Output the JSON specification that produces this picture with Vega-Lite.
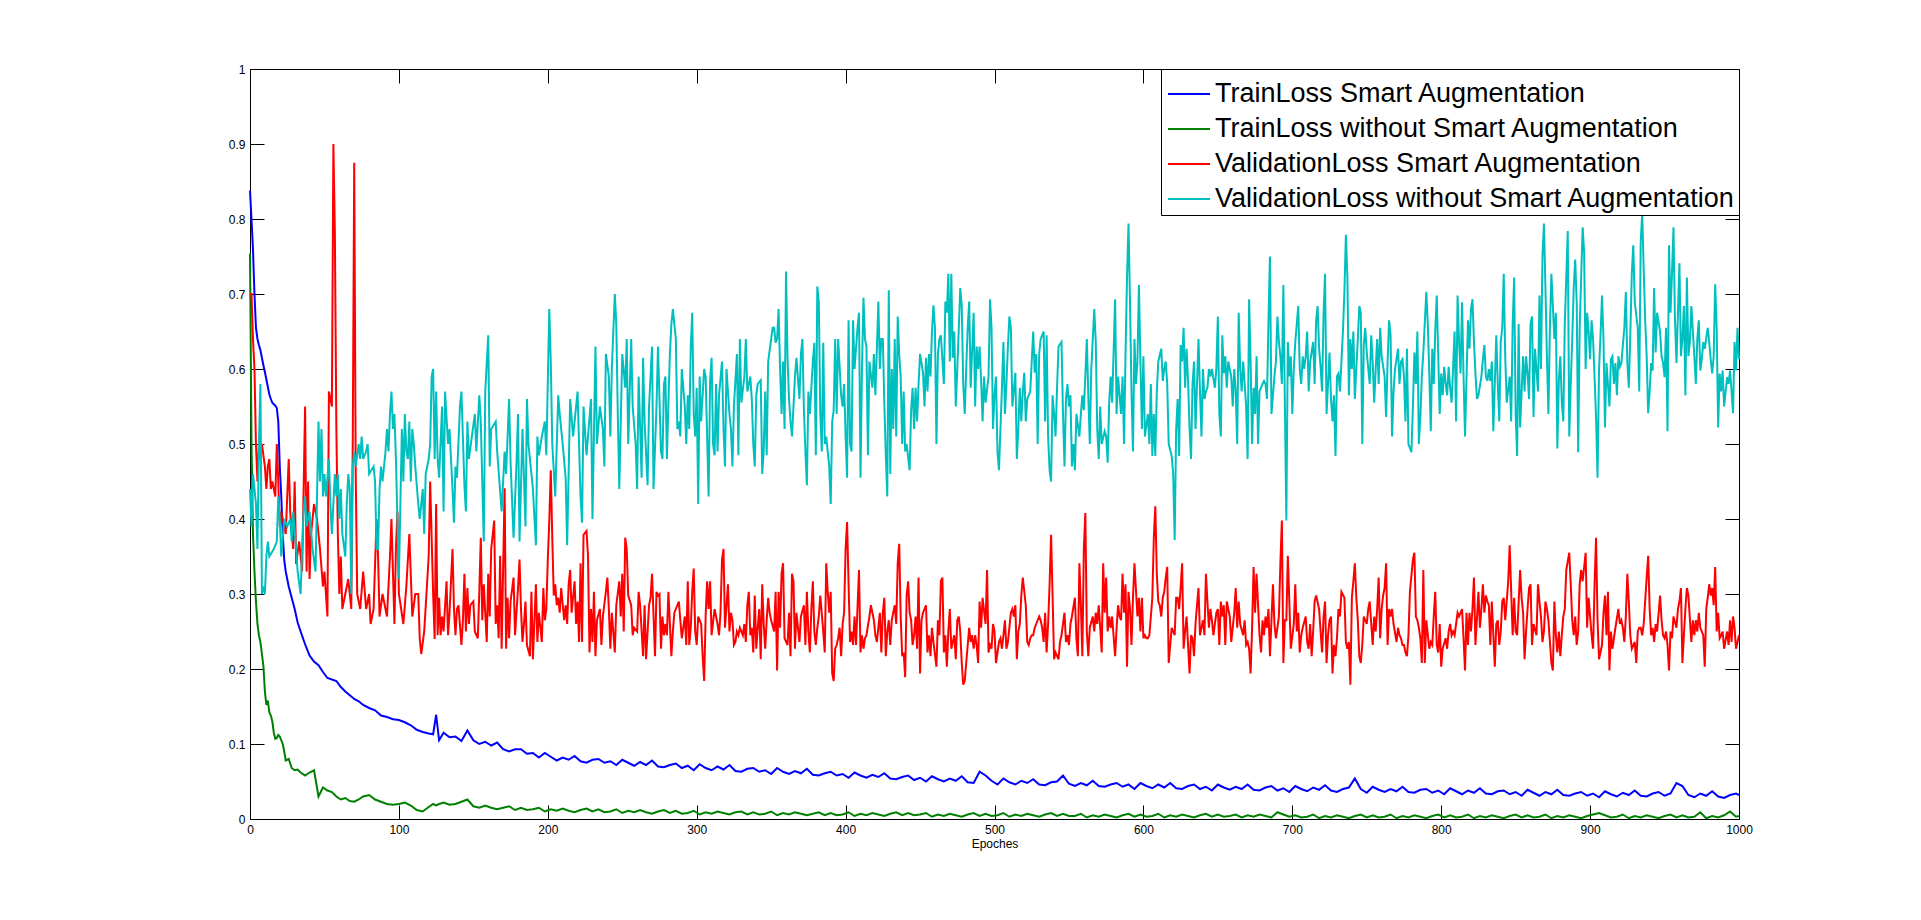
{
"$schema":"https://vega.github.io/schema/vega-lite/v6.json",
"width":1489,"height":750,
"autosize":{"type":"none"},
"padding":{"left":250,"top":69,"right":182,"bottom":101},
"background":"white",
"config":{
"view":{"stroke":"black","strokeWidth":1},
"axis":{"domain":false,"grid":false,"ticks":true,"tickColor":"black","tickSize":-14,"tickWidth":1,"labelFont":"Liberation Sans","labelFontSize":12,"labelColor":"black","titleFont":"Liberation Sans","titleFontSize":12,"titleFontWeight":"normal","titleColor":"black","labelFlush":false,"labelOverlap":false}
},
"datasets":{
"tr":[{"x":0,"a":0.838,"b":0.754},{"x":1,"a":0.8,"b":0.5},{"x":2,"a":0.76,"b":0.38},{"x":3,"a":0.7,"b":0.33},{"x":4,"a":0.655,"b":0.29},{"x":5,"a":0.64,"b":0.26},{"x":6,"a":0.632,"b":0.245},{"x":7,"a":0.625,"b":0.236},{"x":8,"a":0.615,"b":0.22},{"x":9,"a":0.605,"b":0.204},{"x":10,"a":0.596,"b":0.17},{"x":11,"a":0.586,"b":0.152},{"x":12,"a":0.576,"b":0.158},{"x":13,"a":0.566,"b":0.142},{"x":14,"a":0.56,"b":0.138},{"x":15,"a":0.555,"b":0.13},{"x":16,"a":0.553,"b":0.115},{"x":17,"a":0.551,"b":0.107},{"x":18,"a":0.548,"b":0.108},{"x":19,"a":0.53,"b":0.112},{"x":20,"a":0.47,"b":0.11},{"x":21,"a":0.43,"b":0.105},{"x":22,"a":0.38,"b":0.1},{"x":23,"a":0.345,"b":0.09},{"x":24,"a":0.33,"b":0.078},{"x":26,"a":0.31,"b":0.08},{"x":28,"a":0.295,"b":0.068},{"x":30,"a":0.28,"b":0.065},{"x":32,"a":0.262,"b":0.066},{"x":34,"a":0.25,"b":0.062},{"x":37,"a":0.233,"b":0.058},{"x":40,"a":0.218,"b":0.062},{"x":43,"a":0.21,"b":0.065},{"x":46,"a":0.205,"b":0.03},{"x":49,"a":0.196,"b":0.042},{"x":52,"a":0.188,"b":0.038},{"x":55,"a":0.186,"b":0.036},{"x":58,"a":0.184,"b":0.03},{"x":61,"a":0.176,"b":0.026},{"x":64,"a":0.17,"b":0.028},{"x":67,"a":0.165,"b":0.024},{"x":70,"a":0.16,"b":0.023},{"x":73,"a":0.157,"b":0.026},{"x":76,"a":0.152,"b":0.03},{"x":80,"a":0.148,"b":0.032},{"x":84,"a":0.145,"b":0.026},{"x":88,"a":0.138,"b":0.023},{"x":92,"a":0.136,"b":0.02},{"x":96,"a":0.133,"b":0.019},{"x":100,"a":0.132,"b":0.02},{"x":104,"a":0.129,"b":0.022},{"x":108,"a":0.125,"b":0.018},{"x":112,"a":0.119,"b":0.012},{"x":116,"a":0.116,"b":0.01},{"x":120,"a":0.114,"b":0.016},{"x":123,"a":0.113,"b":0.02},{"x":125,"a":0.139,"b":0.018},{"x":127,"a":0.105,"b":0.02},
{"x":130,"a":0.115,"b":0.022},{"x":134,"a":0.109,"b":0.019},{"x":138,"a":0.11,"b":0.02},{"x":142,"a":0.104,"b":0.023},{"x":146,"a":0.118,"b":0.026},{"x":150,"a":0.105,"b":0.017},{"x":154,"a":0.1,"b":0.015},{"x":158,"a":0.103,"b":0.018},{"x":162,"a":0.098,"b":0.015},{"x":166,"a":0.102,"b":0.013},{"x":170,"a":0.093,"b":0.015},{"x":174,"a":0.09,"b":0.017},{"x":178,"a":0.093,"b":0.012},{"x":182,"a":0.093,"b":0.015},{"x":186,"a":0.087,"b":0.012},{"x":190,"a":0.088,"b":0.013},{"x":194,"a":0.082,"b":0.015},{"x":198,"a":0.088,"b":0.01},{"x":202,"a":0.083,"b":0.013},{"x":206,"a":0.078,"b":0.011},{"x":210,"a":0.082,"b":0.014},{"x":214,"a":0.079,"b":0.011},{"x":218,"a":0.084,"b":0.009},{"x":222,"a":0.077,"b":0.012},{"x":226,"a":0.075,"b":0.014},{"x":230,"a":0.079,"b":0.01},{"x":234,"a":0.08,"b":0.013},{"x":238,"a":0.075,"b":0.009},{"x":242,"a":0.077,"b":0.01},{"x":246,"a":0.072,"b":0.013},{"x":250,"a":0.079,"b":0.008},{"x":254,"a":0.075,"b":0.011},{"x":258,"a":0.071,"b":0.009},{"x":262,"a":0.076,"b":0.012},{"x":266,"a":0.072,"b":0.009},{"x":270,"a":0.078,"b":0.007},{"x":274,"a":0.07,"b":0.01},{"x":278,"a":0.069,"b":0.012},{"x":282,"a":0.072,"b":0.008},{"x":286,"a":0.074,"b":0.011},{"x":290,"a":0.068,"b":0.007},{"x":294,"a":0.071,"b":0.008},{"x":298,"a":0.065,"b":0.011},{"x":302,"a":0.073,"b":0.006},{"x":306,"a":0.068,"b":0.009},{"x":310,"a":0.065,"b":0.007},{"x":314,"a":0.07,"b":0.01},{"x":318,"a":0.066,"b":0.008},{"x":322,"a":0.072,"b":0.006},{"x":326,"a":0.064,"b":0.009},{"x":330,"a":0.063,"b":0.01},{"x":334,"a":0.067,"b":0.006},{"x":338,"a":0.068,"b":0.009},{"x":342,"a":0.063,"b":0.006},{"x":346,"a":0.065,"b":0.007},{"x":350,"a":0.06,"b":0.01},{"x":354,"a":0.068,"b":0.005},{"x":358,"a":0.063,"b":0.008},{"x":362,"a":0.06,"b":0.006},{"x":366,"a":0.064,"b":0.009},{"x":370,"a":0.061,"b":0.007},{"x":374,"a":0.067,"b":0.005},{"x":378,"a":0.059,"b":0.007},{"x":382,"a":0.058,"b":0.009},{"x":386,"a":0.061,"b":0.005},{"x":390,"a":0.063,"b":0.008},{"x":394,"a":0.058,"b":0.005},{"x":398,"a":0.06,"b":0.006},{"x":402,"a":0.055,"b":0.009},{"x":406,"a":0.062,"b":0.004},{"x":410,"a":0.058,"b":0.007},{"x":414,"a":0.055,"b":0.005},{"x":418,"a":0.059,"b":0.008},{"x":422,"a":0.056,"b":0.006},{"x":426,"a":0.061,"b":0.004},{"x":430,"a":0.054,"b":0.007},{"x":434,"a":0.053,"b":0.009},{"x":438,"a":0.056,"b":0.005},{"x":442,"a":0.058,"b":0.008},{"x":446,"a":0.052,"b":0.005},{"x":450,"a":0.055,"b":0.006},{"x":454,"a":0.05,"b":0.008},{"x":458,"a":0.057,"b":0.003},{"x":462,"a":0.053,"b":0.006},{"x":466,"a":0.05,"b":0.004},{"x":470,"a":0.054,"b":0.007},{"x":474,"a":0.051,"b":0.005},{"x":478,"a":0.057,"b":0.003},{"x":482,"a":0.049,"b":0.006},{"x":486,"a":0.048,"b":0.008},{"x":490,"a":0.063,"b":0.004},{"x":494,"a":0.058,"b":0.007},{"x":498,"a":0.051,"b":0.004},{"x":502,"a":0.046,"b":0.005},{"x":506,"a":0.054,"b":0.008},{"x":510,"a":0.049,"b":0.003},{"x":514,"a":0.046,"b":0.006},{"x":518,"a":0.051,"b":0.004},{"x":522,"a":0.048,"b":0.007},{"x":526,"a":0.053,"b":0.005},{"x":530,"a":0.046,"b":0.003},{"x":534,"a":0.045,"b":0.006},{"x":538,"a":0.049,"b":0.008},{"x":542,"a":0.05,"b":0.004},{"x":546,"a":0.058,"b":0.007},{"x":550,"a":0.047,"b":0.004},{"x":554,"a":0.044,"b":0.004},{"x":558,"a":0.048,"b":0.007},{"x":562,"a":0.045,"b":0.002},{"x":566,"a":0.051,"b":0.005},{"x":570,"a":0.044,"b":0.003},{"x":574,"a":0.043,"b":0.006},{"x":578,"a":0.046,"b":0.004},{"x":582,"a":0.048,"b":0.002},{"x":586,"a":0.043,"b":0.005},{"x":590,"a":0.046,"b":0.007},{"x":594,"a":0.04,"b":0.003},{"x":598,"a":0.048,"b":0.006},{"x":602,"a":0.044,"b":0.003},{"x":606,"a":0.041,"b":0.004},{"x":610,"a":0.046,"b":0.007},{"x":614,"a":0.042,"b":0.002},{"x":618,"a":0.048,"b":0.005},{"x":622,"a":0.041,"b":0.003},{"x":626,"a":0.04,"b":0.006},{"x":630,"a":0.044,"b":0.004},{"x":634,"a":0.046,"b":0.002},{"x":638,"a":0.04,"b":0.005},{"x":642,"a":0.043,"b":0.007},{"x":646,"a":0.038,"b":0.003},{"x":650,"a":0.046,"b":0.006},{"x":654,"a":0.042,"b":0.003},{"x":658,"a":0.039,"b":0.004},{"x":662,"a":0.043,"b":0.006},{"x":666,"a":0.04,"b":0.002},{"x":670,"a":0.046,"b":0.005},{"x":674,"a":0.039,"b":0.003},{"x":678,"a":0.038,"b":0.006},{"x":682,"a":0.042,"b":0.004},{"x":686,"a":0.044,"b":0.002},{"x":690,"a":0.038,"b":0.009},{"x":694,"a":0.041,"b":0.006},{"x":698,"a":0.036,"b":0.003},{"x":702,"a":0.044,"b":0.005},{"x":706,"a":0.04,"b":0.002},{"x":710,"a":0.037,"b":0.003},{"x":714,"a":0.042,"b":0.006},{"x":718,"a":0.039,"b":0.001},{"x":722,"a":0.045,"b":0.004},{"x":726,"a":0.038,"b":0.002},{"x":730,"a":0.036,"b":0.005},{"x":734,"a":0.04,"b":0.003},{"x":738,"a":0.042,"b":0.001},{"x":742,"a":0.054,"b":0.004},{"x":746,"a":0.04,"b":0.006},{"x":750,"a":0.035,"b":0.002},{"x":754,"a":0.043,"b":0.005},{"x":758,"a":0.039,"b":0.002},{"x":762,"a":0.036,"b":0.003},{"x":766,"a":0.04,"b":0.006},{"x":770,"a":0.037,"b":0.001},{"x":774,"a":0.043,"b":0.004},{"x":778,"a":0.036,"b":0.002},{"x":782,"a":0.035,"b":0.005},{"x":786,"a":0.039,"b":0.003},{"x":790,"a":0.04,"b":0.001},{"x":794,"a":0.035,"b":0.004},{"x":798,"a":0.038,"b":0.006},{"x":802,"a":0.033,"b":0.002},{"x":806,"a":0.041,"b":0.005},{"x":810,"a":0.037,"b":0.002},{"x":814,"a":0.033,"b":0.003},{"x":818,"a":0.038,"b":0.006},{"x":822,"a":0.035,"b":0.001},{"x":826,"a":0.041,"b":0.004},{"x":830,"a":0.034,"b":0.002},{"x":834,"a":0.033,"b":0.005},{"x":838,"a":0.037,"b":0.003},{"x":842,"a":0.038,"b":0.001},{"x":846,"a":0.033,"b":0.004},{"x":850,"a":0.036,"b":0.006},{"x":854,"a":0.031,"b":0.002},{"x":858,"a":0.039,"b":0.005},{"x":862,"a":0.035,"b":0.002},{"x":866,"a":0.031,"b":0.003},{"x":870,"a":0.036,"b":0.006},{"x":874,"a":0.033,"b":0.001},{"x":878,"a":0.039,"b":0.004},{"x":882,"a":0.032,"b":0.002},{"x":886,"a":0.031,"b":0.005},{"x":890,"a":0.034,"b":0.003},{"x":894,"a":0.036,"b":0.001},{"x":898,"a":0.031,"b":0.004},{"x":902,"a":0.034,"b":0.006},{"x":906,"a":0.029,"b":0.008},{"x":910,"a":0.037,"b":0.005},{"x":914,"a":0.033,"b":0.002},{"x":918,"a":0.03,"b":0.003},{"x":922,"a":0.035,"b":0.006},{"x":926,"a":0.032,"b":0.001},{"x":930,"a":0.038,"b":0.004},{"x":934,"a":0.031,"b":0.002},{"x":938,"a":0.03,"b":0.005},{"x":942,"a":0.034,"b":0.003},{"x":946,"a":0.036,"b":0.001},{"x":950,"a":0.031,"b":0.004},{"x":954,"a":0.034,"b":0.006},{"x":958,"a":0.048,"b":0.002},{"x":962,"a":0.044,"b":0.005},{"x":966,"a":0.032,"b":0.002},{"x":970,"a":0.029,"b":0.003},{"x":974,"a":0.034,"b":0.009},{"x":978,"a":0.031,"b":0.001},{"x":982,"a":0.037,"b":0.004},{"x":986,"a":0.03,"b":0.002},{"x":990,"a":0.028,"b":0.005},{"x":994,"a":0.032,"b":0.01},{"x":998,"a":0.034,"b":0.003},{"x":1000,"a":0.032,"b":0.004}],
"vs":[{"x":0,"y":0.7},{"x":1,"y":0.7},{"x":2,"y":0.64},{"x":3,"y":0.6},{"x":4,"y":0.5},{"x":5,"y":0.45},{"x":6,"y":0.5},{"x":7,"y":0.48},{"x":8,"y":0.5},{"x":10,"y":0.47},{"x":11,"y":0.44},{"x":12,"y":0.47},{"x":13,"y":0.48},{"x":14,"y":0.44},{"x":15,"y":0.45},{"x":17,"y":0.43},{"x":18,"y":0.5},{"x":19,"y":0.45},{"x":20,"y":0.39},{"x":21,"y":0.41},{"x":22,"y":0.4},{"x":24,"y":0.38},{"x":26,"y":0.48},{"x":27,"y":0.41},{"x":29,"y":0.36},{"x":30,"y":0.45},{"x":31,"y":0.34},{"x":33,"y":0.37},{"x":35,"y":0.33},{"x":37,"y":0.55},{"x":38,"y":0.33},{"x":39,"y":0.45},{"x":40,"y":0.32},{"x":41,"y":0.38},{"x":43,"y":0.42},{"x":45,"y":0.4},{"x":47,"y":0.36},{"x":49,"y":0.31},{"x":50,"y":0.33},{"x":52,"y":0.27},{"x":53,"y":0.57},{"x":55,"y":0.55},{"x":56,"y":0.9},{"x":57,"y":0.78},{"x":58,"y":0.52},{"x":59,"y":0.38},{"x":60,"y":0.3},{"x":61,"y":0.35},{"x":62,"y":0.28},{"x":64,"y":0.3},{"x":66,"y":0.32},{"x":68,"y":0.28},{"x":69,"y":0.5},{"x":70,"y":0.875},{"x":71,"y":0.46},{"x":72,"y":0.3},{"x":74,"y":0.28},{"x":76,"y":0.33},{"x":78,"y":0.28},{"x":80,"y":0.3},{"x":81,"y":0.26},{"x":83,"y":0.28},{"x":85,"y":0.4},{"x":86,"y":0.35},{"x":87,"y":0.27},{"x":89,"y":0.3},{"x":92,"y":0.27},{"x":94,"y":0.35},{"x":95,"y":0.4},{"x":97,"y":0.26},{"x":98,"y":0.36},{"x":99,"y":0.41},{"x":100,"y":0.3},{"x":103,"y":0.26},{"x":105,"y":0.31},{"x":107,"y":0.38},{"x":109,"y":0.27},{"x":111,"y":0.3},{"x":113,"y":0.3},{"x":114,"y":0.24},{"x":115,"y":0.22},{"x":117,"y":0.25},{"x":120,"y":0.35},{"x":121,"y":0.45},{"x":123,"y":0.3},{"x":124,"y":0.24},
{"x":125,"y":0.42},{"x":126,"y":0.245},{"x":127,"y":0.295},{"x":128,"y":0.245},{"x":129,"y":0.27},{"x":130,"y":0.25},{"x":132,"y":0.317},{"x":133,"y":0.245},{"x":134,"y":0.275},{"x":136,"y":0.36},{"x":137,"y":0.28},{"x":138,"y":0.245},{"x":139,"y":0.28},{"x":140,"y":0.285},{"x":142,"y":0.232},{"x":143,"y":0.265},{"x":144,"y":0.327},{"x":145,"y":0.25},{"x":146,"y":0.308},{"x":147,"y":0.26},{"x":148,"y":0.285},{"x":150,"y":0.29},{"x":151,"y":0.25},{"x":153,"y":0.241},{"x":154,"y":0.303},{"x":155,"y":0.375},{"x":156,"y":0.265},{"x":157,"y":0.313},{"x":159,"y":0.236},{"x":160,"y":0.327},{"x":161,"y":0.27},{"x":162,"y":0.36},{"x":164,"y":0.398},{"x":165,"y":0.26},{"x":166,"y":0.285},{"x":167,"y":0.241},{"x":168,"y":0.351},{"x":169,"y":0.227},{"x":171,"y":0.441},{"x":172,"y":0.227},{"x":173,"y":0.295},{"x":174,"y":0.241},{"x":175,"y":0.29},{"x":177,"y":0.322},{"x":178,"y":0.245},{"x":180,"y":0.308},{"x":181,"y":0.346},{"x":182,"y":0.28},{"x":183,"y":0.236},{"x":184,"y":0.26},{"x":185,"y":0.29},{"x":186,"y":0.232},{"x":188,"y":0.217},{"x":189,"y":0.303},{"x":190,"y":0.213},{"x":192,"y":0.313},{"x":193,"y":0.236},{"x":194,"y":0.275},{"x":196,"y":0.236},{"x":197,"y":0.308},{"x":198,"y":0.265},{"x":199,"y":0.28},{"x":200,"y":0.346},{"x":201,"y":0.398},{"x":202,"y":0.465},{"x":203,"y":0.375},{"x":204,"y":0.298},{"x":205,"y":0.313},{"x":206,"y":0.285},{"x":207,"y":0.295},{"x":208,"y":0.275},{"x":209,"y":0.308},{"x":211,"y":0.265},{"x":212,"y":0.285},{"x":213,"y":0.26},{"x":214,"y":0.313},{"x":215,"y":0.332},{"x":216,"y":0.275},{"x":218,"y":0.317},{"x":219,"y":0.26},{"x":220,"y":0.29},{"x":221,"y":0.236},{"x":222,"y":0.341},{"x":223,"y":0.236},{"x":224,"y":0.379},{"x":226,"y":0.384},{"x":227,"y":0.351},{"x":228,"y":0.222},{"x":229,"y":0.28},{"x":230,"y":0.236},{"x":231,"y":0.303},{"x":232,"y":0.217},{"x":233,"y":0.265},{"x":235,"y":0.28},{"x":236,"y":0.232},{"x":237,"y":0.27},{"x":239,"y":0.303},{"x":240,"y":0.322},{"x":241,"y":0.28},{"x":242,"y":0.227},{"x":243,"y":0.275},{"x":245,"y":0.222},{"x":246,"y":0.285},{"x":248,"y":0.317},{"x":249,"y":0.27},{"x":250,"y":0.327},{"x":251,"y":0.25},{"x":252,"y":0.375},{"x":253,"y":0.36},{"x":254,"y":0.298},{"x":256,"y":0.285},{"x":257,"y":0.245},{"x":258,"y":0.255},{"x":260,"y":0.25},{"x":261,"y":0.303},{"x":262,"y":0.285},{"x":264,"y":0.217},{"x":265,"y":0.285},{"x":266,"y":0.213},{"x":268,"y":0.285},{"x":269,"y":0.295},{"x":270,"y":0.327},{"x":272,"y":0.217},{"x":273,"y":0.303},{"x":274,"y":0.298},
{"x":275,"y":0.3},{"x":276,"y":0.227},{"x":277,"y":0.27},{"x":278,"y":0.245},{"x":279,"y":0.26},{"x":280,"y":0.245},{"x":281,"y":0.303},{"x":283,"y":0.217},{"x":284,"y":0.25},{"x":285,"y":0.275},{"x":286,"y":0.28},{"x":287,"y":0.285},{"x":288,"y":0.29},{"x":289,"y":0.265},{"x":290,"y":0.241},{"x":292,"y":0.27},{"x":293,"y":0.232},{"x":294,"y":0.317},{"x":295,"y":0.232},{"x":296,"y":0.255},{"x":297,"y":0.303},{"x":298,"y":0.334},{"x":299,"y":0.25},{"x":300,"y":0.232},{"x":301,"y":0.27},{"x":303,"y":0.26},{"x":304,"y":0.217},{"x":305,"y":0.184},{"x":306,"y":0.27},{"x":307,"y":0.317},{"x":308,"y":0.28},{"x":309,"y":0.317},{"x":310,"y":0.245},{"x":312,"y":0.28},{"x":313,"y":0.27},{"x":314,"y":0.26},{"x":315,"y":0.245},{"x":316,"y":0.275},{"x":317,"y":0.346},{"x":318,"y":0.36},{"x":319,"y":0.255},{"x":321,"y":0.313},{"x":322,"y":0.25},{"x":323,"y":0.275},{"x":324,"y":0.265},{"x":325,"y":0.232},{"x":326,"y":0.236},{"x":327,"y":0.25},{"x":328,"y":0.245},{"x":329,"y":0.255},{"x":331,"y":0.245},{"x":332,"y":0.26},{"x":333,"y":0.236},{"x":334,"y":0.285},{"x":335,"y":0.303},{"x":336,"y":0.245},{"x":337,"y":0.255},{"x":338,"y":0.222},{"x":339,"y":0.298},{"x":340,"y":0.227},{"x":341,"y":0.255},{"x":342,"y":0.28},{"x":343,"y":0.213},{"x":344,"y":0.313},{"x":345,"y":0.26},{"x":346,"y":0.227},{"x":347,"y":0.265},{"x":348,"y":0.295},{"x":349,"y":0.275},{"x":350,"y":0.265},{"x":352,"y":0.25},{"x":353,"y":0.303},{"x":354,"y":0.198},{"x":355,"y":0.303},{"x":356,"y":0.255},{"x":357,"y":0.327},{"x":358,"y":0.341},{"x":359,"y":0.241},{"x":361,"y":0.232},{"x":362,"y":0.275},{"x":363,"y":0.217},{"x":364,"y":0.327},{"x":365,"y":0.317},{"x":366,"y":0.227},{"x":367,"y":0.275},{"x":368,"y":0.255},{"x":369,"y":0.236},{"x":370,"y":0.27},{"x":372,"y":0.285},{"x":373,"y":0.232},{"x":374,"y":0.303},{"x":375,"y":0.25},{"x":376,"y":0.222},{"x":377,"y":0.28},{"x":378,"y":0.317},{"x":379,"y":0.25},{"x":380,"y":0.232},{"x":381,"y":0.255},{"x":382,"y":0.27},{"x":383,"y":0.298},{"x":385,"y":0.25},{"x":386,"y":0.222},{"x":387,"y":0.341},{"x":388,"y":0.303},{"x":389,"y":0.275},{"x":390,"y":0.303},{"x":391,"y":0.194},{"x":392,"y":0.184},{"x":393,"y":0.227},{"x":394,"y":0.232},{"x":395,"y":0.241},{"x":396,"y":0.255},{"x":397,"y":0.217},{"x":398,"y":0.26},{"x":399,"y":0.275},{"x":400,"y":0.36},{"x":401,"y":0.396},{"x":402,"y":0.313},{"x":403,"y":0.236},{"x":404,"y":0.25},{"x":405,"y":0.232},{"x":406,"y":0.27},{"x":407,"y":0.232},{"x":409,"y":0.332},{"x":410,"y":0.222},{"x":411,"y":0.245},{"x":412,"y":0.227},{"x":413,"y":0.241},{"x":414,"y":0.245},{"x":416,"y":0.27},{"x":417,"y":0.285},{"x":418,"y":0.275},{"x":419,"y":0.265},{"x":420,"y":0.245},{"x":421,"y":0.236},{"x":422,"y":0.255},{"x":423,"y":0.275},{"x":424,"y":0.222},
{"x":425,"y":0.275},{"x":426,"y":0.295},{"x":427,"y":0.217},{"x":428,"y":0.25},{"x":429,"y":0.265},{"x":430,"y":0.232},{"x":431,"y":0.265},{"x":432,"y":0.275},{"x":433,"y":0.285},{"x":434,"y":0.26},{"x":435,"y":0.341},{"x":436,"y":0.367},{"x":437,"y":0.27},{"x":438,"y":0.217},{"x":439,"y":0.222},{"x":440,"y":0.189},{"x":441,"y":0.298},{"x":442,"y":0.317},{"x":443,"y":0.275},{"x":444,"y":0.265},{"x":445,"y":0.232},{"x":446,"y":0.245},{"x":447,"y":0.27},{"x":448,"y":0.227},{"x":449,"y":0.322},{"x":450,"y":0.194},{"x":451,"y":0.265},{"x":452,"y":0.275},{"x":454,"y":0.285},{"x":455,"y":0.222},{"x":456,"y":0.245},{"x":457,"y":0.217},{"x":458,"y":0.255},{"x":459,"y":0.236},{"x":461,"y":0.203},{"x":462,"y":0.265},{"x":463,"y":0.245},{"x":464,"y":0.317},{"x":465,"y":0.322},{"x":466,"y":0.222},{"x":467,"y":0.245},{"x":468,"y":0.203},{"x":469,"y":0.25},{"x":470,"y":0.28},{"x":471,"y":0.227},{"x":473,"y":0.245},{"x":474,"y":0.213},{"x":475,"y":0.265},{"x":476,"y":0.27},{"x":477,"y":0.25},{"x":478,"y":0.208},{"x":479,"y":0.179},{"x":480,"y":0.184},{"x":481,"y":0.208},{"x":483,"y":0.255},{"x":484,"y":0.236},{"x":485,"y":0.245},{"x":486,"y":0.227},{"x":487,"y":0.245},{"x":488,"y":0.232},{"x":489,"y":0.208},{"x":490,"y":0.29},{"x":491,"y":0.255},{"x":492,"y":0.295},{"x":494,"y":0.26},{"x":495,"y":0.332},{"x":496,"y":0.222},{"x":497,"y":0.232},{"x":498,"y":0.227},{"x":499,"y":0.26},{"x":500,"y":0.25},{"x":501,"y":0.208},{"x":503,"y":0.236},{"x":504,"y":0.241},{"x":505,"y":0.227},{"x":506,"y":0.245},{"x":507,"y":0.265},{"x":508,"y":0.227},{"x":509,"y":0.236},{"x":511,"y":0.275},{"x":512,"y":0.28},{"x":513,"y":0.27},{"x":514,"y":0.285},{"x":515,"y":0.213},{"x":516,"y":0.25},{"x":517,"y":0.26},{"x":518,"y":0.298},{"x":519,"y":0.322},{"x":521,"y":0.285},{"x":522,"y":0.236},{"x":523,"y":0.232},{"x":524,"y":0.241},{"x":525,"y":0.245},{"x":526,"y":0.245},{"x":527,"y":0.255},{"x":528,"y":0.26},{"x":530,"y":0.27},{"x":531,"y":0.265},{"x":532,"y":0.255},{"x":533,"y":0.236},{"x":534,"y":0.275},{"x":535,"y":0.222},{"x":536,"y":0.26},{"x":537,"y":0.313},{"x":538,"y":0.379},{"x":539,"y":0.298},{"x":540,"y":0.213},{"x":541,"y":0.222},{"x":543,"y":0.213},{"x":544,"y":0.236},{"x":545,"y":0.245},{"x":546,"y":0.26},{"x":547,"y":0.275},{"x":548,"y":0.236},{"x":549,"y":0.245},{"x":550,"y":0.232},{"x":551,"y":0.26},{"x":552,"y":0.27},{"x":554,"y":0.295},{"x":555,"y":0.241},{"x":556,"y":0.217},{"x":557,"y":0.341},{"x":558,"y":0.285},{"x":559,"y":0.217},{"x":560,"y":0.36},{"x":561,"y":0.408},{"x":562,"y":0.25},{"x":563,"y":0.217},{"x":564,"y":0.255},{"x":566,"y":0.27},{"x":567,"y":0.25},{"x":568,"y":0.275},{"x":569,"y":0.26},{"x":570,"y":0.285},{"x":571,"y":0.255},{"x":572,"y":0.222},{"x":573,"y":0.341},{"x":574,"y":0.275},
{"x":575,"y":0.322},{"x":576,"y":0.25},{"x":577,"y":0.27},{"x":578,"y":0.255},{"x":579,"y":0.27},{"x":581,"y":0.217},{"x":582,"y":0.255},{"x":583,"y":0.285},{"x":584,"y":0.27},{"x":585,"y":0.265},{"x":586,"y":0.327},{"x":587,"y":0.275},{"x":588,"y":0.313},{"x":589,"y":0.203},{"x":590,"y":0.303},{"x":591,"y":0.28},{"x":592,"y":0.232},{"x":593,"y":0.295},{"x":594,"y":0.341},{"x":596,"y":0.27},{"x":597,"y":0.295},{"x":598,"y":0.25},{"x":599,"y":0.295},{"x":600,"y":0.241},{"x":601,"y":0.245},{"x":602,"y":0.241},{"x":603,"y":0.241},{"x":604,"y":0.245},{"x":606,"y":0.295},{"x":607,"y":0.375},{"x":608,"y":0.417},{"x":609,"y":0.327},{"x":610,"y":0.29},{"x":611,"y":0.285},{"x":612,"y":0.27},{"x":613,"y":0.295},{"x":614,"y":0.303},{"x":615,"y":0.322},{"x":616,"y":0.336},{"x":617,"y":0.208},{"x":619,"y":0.255},{"x":620,"y":0.25},{"x":621,"y":0.245},{"x":622,"y":0.295},{"x":623,"y":0.295},{"x":624,"y":0.28},{"x":625,"y":0.308},{"x":626,"y":0.341},{"x":627,"y":0.227},{"x":628,"y":0.25},{"x":629,"y":0.27},{"x":631,"y":0.194},{"x":632,"y":0.245},{"x":633,"y":0.241},{"x":634,"y":0.217},{"x":635,"y":0.26},{"x":636,"y":0.285},{"x":637,"y":0.308},{"x":638,"y":0.245},{"x":640,"y":0.265},{"x":641,"y":0.245},{"x":642,"y":0.327},{"x":643,"y":0.29},{"x":644,"y":0.255},{"x":645,"y":0.28},{"x":646,"y":0.265},{"x":647,"y":0.245},{"x":649,"y":0.275},{"x":650,"y":0.28},{"x":651,"y":0.232},{"x":652,"y":0.29},{"x":653,"y":0.27},{"x":654,"y":0.285},{"x":655,"y":0.232},{"x":656,"y":0.29},{"x":658,"y":0.27},{"x":659,"y":0.236},{"x":660,"y":0.255},{"x":661,"y":0.275},{"x":662,"y":0.308},{"x":663,"y":0.255},{"x":664,"y":0.29},{"x":665,"y":0.26},{"x":667,"y":0.245},{"x":668,"y":0.265},{"x":669,"y":0.232},{"x":670,"y":0.236},{"x":671,"y":0.227},{"x":672,"y":0.194},{"x":673,"y":0.255},{"x":674,"y":0.336},{"x":675,"y":0.275},{"x":676,"y":0.327},{"x":678,"y":0.245},{"x":679,"y":0.222},{"x":680,"y":0.265},{"x":681,"y":0.245},{"x":682,"y":0.27},{"x":683,"y":0.255},{"x":684,"y":0.28},{"x":685,"y":0.217},{"x":687,"y":0.313},{"x":688,"y":0.26},{"x":689,"y":0.241},{"x":690,"y":0.255},{"x":691,"y":0.27},{"x":692,"y":0.341},{"x":693,"y":0.398},{"x":694,"y":0.208},{"x":695,"y":0.265},{"x":696,"y":0.265},{"x":697,"y":0.351},{"x":698,"y":0.29},{"x":699,"y":0.227},{"x":701,"y":0.26},{"x":702,"y":0.313},{"x":703,"y":0.25},{"x":704,"y":0.275},{"x":705,"y":0.222},{"x":706,"y":0.245},{"x":707,"y":0.255},{"x":709,"y":0.27},{"x":710,"y":0.236},{"x":711,"y":0.227},{"x":712,"y":0.26},{"x":713,"y":0.217},{"x":714,"y":0.25},{"x":715,"y":0.29},{"x":716,"y":0.298},{"x":718,"y":0.28},{"x":719,"y":0.25},{"x":720,"y":0.222},{"x":721,"y":0.27},{"x":722,"y":0.29},{"x":723,"y":0.208},{"x":724,"y":0.245},
{"x":725,"y":0.265},{"x":726,"y":0.27},{"x":727,"y":0.194},{"x":728,"y":0.232},{"x":729,"y":0.217},{"x":730,"y":0.241},{"x":731,"y":0.28},{"x":732,"y":0.27},{"x":733,"y":0.303},{"x":735,"y":0.295},{"x":736,"y":0.236},{"x":737,"y":0.227},{"x":738,"y":0.236},{"x":739,"y":0.179},{"x":740,"y":0.295},{"x":741,"y":0.317},{"x":742,"y":0.341},{"x":743,"y":0.295},{"x":744,"y":0.265},{"x":745,"y":0.217},{"x":746,"y":0.208},{"x":747,"y":0.232},{"x":748,"y":0.27},{"x":749,"y":0.265},{"x":750,"y":0.26},{"x":751,"y":0.28},{"x":752,"y":0.29},{"x":754,"y":0.232},{"x":755,"y":0.27},{"x":756,"y":0.25},{"x":757,"y":0.28},{"x":758,"y":0.322},{"x":759,"y":0.241},{"x":760,"y":0.28},{"x":761,"y":0.298},{"x":762,"y":0.308},{"x":763,"y":0.341},{"x":764,"y":0.232},{"x":765,"y":0.28},{"x":766,"y":0.27},{"x":767,"y":0.28},{"x":768,"y":0.26},{"x":770,"y":0.236},{"x":771,"y":0.255},{"x":772,"y":0.245},{"x":773,"y":0.241},{"x":774,"y":0.232},{"x":775,"y":0.232},{"x":776,"y":0.222},{"x":777,"y":0.217},{"x":778,"y":0.245},{"x":779,"y":0.303},{"x":781,"y":0.346},{"x":782,"y":0.355},{"x":783,"y":0.27},{"x":784,"y":0.265},{"x":785,"y":0.255},{"x":786,"y":0.241},{"x":787,"y":0.208},{"x":788,"y":0.332},{"x":789,"y":0.208},{"x":790,"y":0.265},{"x":792,"y":0.227},{"x":793,"y":0.236},{"x":794,"y":0.232},{"x":795,"y":0.27},{"x":796,"y":0.303},{"x":797,"y":0.232},{"x":798,"y":0.222},{"x":799,"y":0.26},{"x":800,"y":0.203},{"x":801,"y":0.227},{"x":803,"y":0.241},{"x":804,"y":0.227},{"x":805,"y":0.25},{"x":806,"y":0.26},{"x":807,"y":0.245},{"x":808,"y":0.25},{"x":809,"y":0.245},{"x":810,"y":0.26},{"x":811,"y":0.275},{"x":812,"y":0.27},{"x":814,"y":0.28},{"x":815,"y":0.241},{"x":816,"y":0.198},{"x":817,"y":0.275},{"x":818,"y":0.232},{"x":819,"y":0.275},{"x":820,"y":0.25},{"x":821,"y":0.28},{"x":822,"y":0.322},{"x":823,"y":0.232},{"x":825,"y":0.303},{"x":826,"y":0.255},{"x":827,"y":0.28},{"x":828,"y":0.313},{"x":829,"y":0.275},{"x":830,"y":0.298},{"x":831,"y":0.29},{"x":832,"y":0.285},{"x":833,"y":0.232},{"x":834,"y":0.29},{"x":836,"y":0.203},{"x":837,"y":0.26},{"x":838,"y":0.265},{"x":839,"y":0.232},{"x":840,"y":0.25},{"x":841,"y":0.29},{"x":842,"y":0.295},{"x":843,"y":0.265},{"x":845,"y":0.317},{"x":846,"y":0.365},{"x":847,"y":0.303},{"x":848,"y":0.245},{"x":849,"y":0.295},{"x":850,"y":0.25},{"x":851,"y":0.245},{"x":853,"y":0.332},{"x":854,"y":0.295},{"x":855,"y":0.275},{"x":856,"y":0.213},{"x":857,"y":0.25},{"x":858,"y":0.28},{"x":859,"y":0.308},{"x":860,"y":0.313},{"x":861,"y":0.232},{"x":862,"y":0.26},{"x":864,"y":0.245},{"x":865,"y":0.313},{"x":866,"y":0.29},{"x":867,"y":0.27},{"x":868,"y":0.236},{"x":869,"y":0.25},{"x":870,"y":0.29},{"x":871,"y":0.28},{"x":872,"y":0.265},{"x":874,"y":0.208},
{"x":875,"y":0.198},{"x":876,"y":0.29},{"x":877,"y":0.245},{"x":878,"y":0.222},{"x":879,"y":0.25},{"x":880,"y":0.217},{"x":881,"y":0.245},{"x":882,"y":0.27},{"x":883,"y":0.28},{"x":884,"y":0.332},{"x":886,"y":0.355},{"x":887,"y":0.313},{"x":888,"y":0.265},{"x":889,"y":0.245},{"x":890,"y":0.27},{"x":891,"y":0.232},{"x":892,"y":0.25},{"x":893,"y":0.313},{"x":894,"y":0.332},{"x":895,"y":0.317},{"x":897,"y":0.355},{"x":898,"y":0.255},{"x":899,"y":0.295},{"x":900,"y":0.27},{"x":901,"y":0.245},{"x":902,"y":0.227},{"x":903,"y":0.313},{"x":904,"y":0.375},{"x":905,"y":0.265},{"x":906,"y":0.213},{"x":908,"y":0.232},{"x":909,"y":0.275},{"x":910,"y":0.298},{"x":911,"y":0.245},{"x":912,"y":0.303},{"x":913,"y":0.198},{"x":914,"y":0.25},{"x":915,"y":0.227},{"x":916,"y":0.241},{"x":917,"y":0.255},{"x":919,"y":0.28},{"x":920,"y":0.26},{"x":921,"y":0.265},{"x":922,"y":0.255},{"x":923,"y":0.236},{"x":924,"y":0.27},{"x":925,"y":0.327},{"x":926,"y":0.29},{"x":927,"y":0.245},{"x":928,"y":0.227},{"x":930,"y":0.236},{"x":931,"y":0.208},{"x":932,"y":0.25},{"x":933,"y":0.255},{"x":934,"y":0.255},{"x":935,"y":0.245},{"x":936,"y":0.26},{"x":938,"y":0.322},{"x":939,"y":0.351},{"x":940,"y":0.28},{"x":941,"y":0.245},{"x":942,"y":0.255},{"x":943,"y":0.236},{"x":944,"y":0.26},{"x":945,"y":0.25},{"x":947,"y":0.298},{"x":948,"y":0.265},{"x":949,"y":0.245},{"x":950,"y":0.241},{"x":951,"y":0.25},{"x":952,"y":0.232},{"x":953,"y":0.198},{"x":954,"y":0.25},{"x":955,"y":0.241},{"x":956,"y":0.27},{"x":958,"y":0.255},{"x":959,"y":0.28},{"x":960,"y":0.29},{"x":961,"y":0.308},{"x":962,"y":0.208},{"x":963,"y":0.245},{"x":964,"y":0.28},{"x":965,"y":0.308},{"x":966,"y":0.298},{"x":968,"y":0.236},{"x":969,"y":0.265},{"x":970,"y":0.245},{"x":971,"y":0.265},{"x":972,"y":0.25},{"x":973,"y":0.275},{"x":974,"y":0.255},{"x":976,"y":0.245},{"x":977,"y":0.203},{"x":978,"y":0.28},{"x":979,"y":0.295},{"x":980,"y":0.313},{"x":981,"y":0.298},{"x":982,"y":0.308},{"x":983,"y":0.285},{"x":984,"y":0.336},{"x":985,"y":0.25},{"x":986,"y":0.275},{"x":987,"y":0.241},{"x":988,"y":0.245},{"x":989,"y":0.25},{"x":990,"y":0.227},{"x":992,"y":0.25},{"x":993,"y":0.232},{"x":994,"y":0.265},{"x":995,"y":0.236},{"x":996,"y":0.27},{"x":997,"y":0.255},{"x":998,"y":0.227},{"x":1000,"y":0.245}],
"vn":[{"x":0,"y":0.44},{"x":1,"y":0.39},{"x":2,"y":0.46},{"x":3,"y":0.44},{"x":4,"y":0.42},{"x":5,"y":0.36},{"x":6,"y":0.5},{"x":7,"y":0.58},{"x":8,"y":0.3},{"x":9,"y":0.31},{"x":10,"y":0.3},{"x":11,"y":0.35},{"x":12,"y":0.37},{"x":13,"y":0.35},{"x":16,"y":0.36},{"x":18,"y":0.37},{"x":19,"y":0.43},{"x":20,"y":0.4},{"x":21,"y":0.35},{"x":23,"y":0.4},{"x":25,"y":0.39},{"x":27,"y":0.4},{"x":28,"y":0.37},{"x":29,"y":0.41},{"x":31,"y":0.36},{"x":32,"y":0.33},{"x":34,"y":0.3},{"x":35,"y":0.36},{"x":36,"y":0.41},{"x":37,"y":0.43},{"x":38,"y":0.39},{"x":40,"y":0.41},{"x":42,"y":0.36},{"x":44,"y":0.33},{"x":46,"y":0.53},{"x":47,"y":0.45},{"x":48,"y":0.52},{"x":49,"y":0.43},{"x":50,"y":0.46},{"x":51,"y":0.43},{"x":53,"y":0.48},{"x":54,"y":0.42},{"x":55,"y":0.38},{"x":57,"y":0.46},{"x":58,"y":0.43},{"x":59,"y":0.46},{"x":60,"y":0.4},{"x":61,"y":0.44},{"x":62,"y":0.38},{"x":64,"y":0.35},{"x":65,"y":0.42},{"x":66,"y":0.46},{"x":67,"y":0.44},{"x":68,"y":0.3},{"x":69,"y":0.47},{"x":70,"y":0.49},{"x":71,"y":0.47},{"x":73,"y":0.5},{"x":74,"y":0.48},{"x":75,"y":0.51},{"x":76,"y":0.48},{"x":78,"y":0.49},{"x":79,"y":0.5},{"x":80,"y":0.46},{"x":83,"y":0.47},{"x":84,"y":0.45},{"x":85,"y":0.36},{"x":86,"y":0.36},{"x":87,"y":0.44},{"x":88,"y":0.47},{"x":89,"y":0.45},{"x":91,"y":0.49},{"x":92,"y":0.52},{"x":93,"y":0.49},{"x":94,"y":0.54},{"x":95,"y":0.57},{"x":96,"y":0.52},{"x":97,"y":0.54},{"x":98,"y":0.48},{"x":100,"y":0.32},{"x":102,"y":0.52},{"x":103,"y":0.45},{"x":104,"y":0.54},{"x":105,"y":0.49},{"x":106,"y":0.48},{"x":107,"y":0.53},{"x":108,"y":0.45},{"x":109,"y":0.52},{"x":110,"y":0.5},{"x":111,"y":0.47},{"x":113,"y":0.42},{"x":114,"y":0.4},{"x":116,"y":0.44},{"x":117,"y":0.38},{"x":118,"y":0.46},{"x":120,"y":0.48},{"x":121,"y":0.5},{"x":122,"y":0.59},{"x":123,"y":0.6},{"x":124,"y":0.48},
{"x":125,"y":0.57},{"x":126,"y":0.48},{"x":127,"y":0.455},{"x":129,"y":0.55},{"x":130,"y":0.41},{"x":131,"y":0.57},{"x":133,"y":0.5},{"x":134,"y":0.52},{"x":136,"y":0.44},{"x":137,"y":0.395},{"x":138,"y":0.47},{"x":139,"y":0.455},{"x":141,"y":0.55},{"x":142,"y":0.57},{"x":144,"y":0.445},{"x":145,"y":0.41},{"x":146,"y":0.53},{"x":147,"y":0.48},{"x":149,"y":0.51},{"x":151,"y":0.54},{"x":152,"y":0.49},{"x":154,"y":0.565},{"x":155,"y":0.53},{"x":157,"y":0.37},{"x":158,"y":0.57},{"x":160,"y":0.645},{"x":161,"y":0.47},{"x":162,"y":0.52},{"x":165,"y":0.53},{"x":166,"y":0.49},{"x":169,"y":0.41},{"x":171,"y":0.49},{"x":172,"y":0.46},{"x":174,"y":0.56},{"x":175,"y":0.475},{"x":177,"y":0.375},{"x":179,"y":0.475},{"x":180,"y":0.54},{"x":181,"y":0.37},{"x":183,"y":0.52},{"x":185,"y":0.39},{"x":186,"y":0.56},{"x":187,"y":0.5},{"x":189,"y":0.46},{"x":190,"y":0.44},{"x":192,"y":0.365},{"x":193,"y":0.51},{"x":194,"y":0.485},{"x":196,"y":0.51},{"x":198,"y":0.53},{"x":199,"y":0.485},{"x":201,"y":0.68},{"x":202,"y":0.61},{"x":203,"y":0.5},{"x":205,"y":0.43},{"x":207,"y":0.565},{"x":208,"y":0.54},{"x":210,"y":0.5},{"x":212,"y":0.455},{"x":213,"y":0.365},{"x":215,"y":0.56},{"x":217,"y":0.51},{"x":218,"y":0.53},{"x":220,"y":0.57},{"x":222,"y":0.43},{"x":223,"y":0.395},{"x":224,"y":0.55},{"x":226,"y":0.485},{"x":227,"y":0.51},{"x":229,"y":0.56},{"x":230,"y":0.4},{"x":232,"y":0.63},{"x":233,"y":0.5},{"x":235,"y":0.55},{"x":237,"y":0.52},{"x":238,"y":0.47},{"x":239,"y":0.62},{"x":241,"y":0.59},{"x":242,"y":0.51},{"x":243,"y":0.6},{"x":245,"y":0.7},{"x":246,"y":0.66},{"x":247,"y":0.54},{"x":248,"y":0.44},{"x":250,"y":0.62},{"x":252,"y":0.575},{"x":253,"y":0.64},{"x":254,"y":0.5},{"x":256,"y":0.64},{"x":257,"y":0.55},{"x":259,"y":0.5},{"x":260,"y":0.44},{"x":261,"y":0.59},{"x":263,"y":0.455},{"x":264,"y":0.615},{"x":265,"y":0.53},{"x":267,"y":0.445},{"x":268,"y":0.55},{"x":270,"y":0.63},{"x":271,"y":0.44},{"x":273,"y":0.55},{"x":274,"y":0.63},
{"x":276,"y":0.49},{"x":277,"y":0.48},{"x":278,"y":0.58},{"x":279,"y":0.59},{"x":280,"y":0.48},{"x":281,"y":0.555},{"x":282,"y":0.62},{"x":283,"y":0.66},{"x":284,"y":0.68},{"x":285,"y":0.66},{"x":286,"y":0.64},{"x":287,"y":0.52},{"x":288,"y":0.53},{"x":289,"y":0.51},{"x":290,"y":0.6},{"x":292,"y":0.55},{"x":293,"y":0.5},{"x":294,"y":0.565},{"x":295,"y":0.52},{"x":296,"y":0.63},{"x":297,"y":0.675},{"x":298,"y":0.54},{"x":299,"y":0.51},{"x":300,"y":0.575},{"x":301,"y":0.42},{"x":302,"y":0.59},{"x":303,"y":0.53},{"x":305,"y":0.6},{"x":306,"y":0.59},{"x":308,"y":0.43},{"x":309,"y":0.585},{"x":310,"y":0.615},{"x":311,"y":0.5},{"x":312,"y":0.485},{"x":313,"y":0.58},{"x":314,"y":0.49},{"x":315,"y":0.565},{"x":317,"y":0.61},{"x":318,"y":0.52},{"x":319,"y":0.47},{"x":320,"y":0.6},{"x":322,"y":0.54},{"x":323,"y":0.52},{"x":324,"y":0.47},{"x":325,"y":0.55},{"x":327,"y":0.62},{"x":328,"y":0.485},{"x":329,"y":0.64},{"x":330,"y":0.555},{"x":332,"y":0.59},{"x":333,"y":0.64},{"x":334,"y":0.57},{"x":336,"y":0.59},{"x":337,"y":0.56},{"x":338,"y":0.5},{"x":339,"y":0.47},{"x":340,"y":0.565},{"x":341,"y":0.58},{"x":343,"y":0.585},{"x":344,"y":0.46},{"x":345,"y":0.49},{"x":346,"y":0.57},{"x":347,"y":0.485},{"x":348,"y":0.61},{"x":350,"y":0.64},{"x":351,"y":0.655},{"x":352,"y":0.655},{"x":353,"y":0.635},{"x":354,"y":0.64},{"x":355,"y":0.68},{"x":356,"y":0.6},{"x":357,"y":0.54},{"x":358,"y":0.61},{"x":359,"y":0.52},{"x":360,"y":0.73},{"x":361,"y":0.615},{"x":362,"y":0.56},{"x":363,"y":0.53},{"x":364,"y":0.51},{"x":366,"y":0.59},{"x":367,"y":0.615},{"x":369,"y":0.56},{"x":370,"y":0.62},{"x":371,"y":0.64},{"x":372,"y":0.545},{"x":373,"y":0.49},{"x":374,"y":0.445},{"x":375,"y":0.57},{"x":376,"y":0.54},{"x":378,"y":0.61},{"x":379,"y":0.635},{"x":380,"y":0.485},{"x":381,"y":0.71},{"x":382,"y":0.69},{"x":383,"y":0.54},{"x":384,"y":0.49},{"x":385,"y":0.635},{"x":386,"y":0.5},{"x":387,"y":0.51},{"x":389,"y":0.47},{"x":390,"y":0.42},{"x":391,"y":0.53},{"x":392,"y":0.545},{"x":393,"y":0.64},{"x":394,"y":0.54},{"x":395,"y":0.64},{"x":397,"y":0.565},{"x":398,"y":0.55},{"x":399,"y":0.58},{"x":400,"y":0.51},{"x":401,"y":0.455},{"x":402,"y":0.665},{"x":403,"y":0.5},{"x":404,"y":0.49},{"x":405,"y":0.665},{"x":406,"y":0.6},{"x":408,"y":0.655},{"x":409,"y":0.675},{"x":410,"y":0.455},{"x":411,"y":0.6},{"x":412,"y":0.695},{"x":413,"y":0.64},{"x":414,"y":0.63},{"x":415,"y":0.485},{"x":416,"y":0.61},{"x":418,"y":0.575},{"x":419,"y":0.62},{"x":420,"y":0.565},{"x":422,"y":0.69},{"x":423,"y":0.6},{"x":424,"y":0.64},
{"x":425,"y":0.64},{"x":426,"y":0.555},{"x":427,"y":0.485},{"x":428,"y":0.43},{"x":429,"y":0.705},{"x":430,"y":0.46},{"x":431,"y":0.6},{"x":432,"y":0.52},{"x":433,"y":0.64},{"x":434,"y":0.51},{"x":435,"y":0.67},{"x":436,"y":0.62},{"x":437,"y":0.59},{"x":438,"y":0.5},{"x":439,"y":0.57},{"x":440,"y":0.49},{"x":441,"y":0.5},{"x":443,"y":0.465},{"x":444,"y":0.545},{"x":445,"y":0.575},{"x":446,"y":0.52},{"x":447,"y":0.575},{"x":448,"y":0.53},{"x":449,"y":0.58},{"x":450,"y":0.62},{"x":452,"y":0.595},{"x":453,"y":0.55},{"x":454,"y":0.615},{"x":455,"y":0.57},{"x":456,"y":0.62},{"x":457,"y":0.59},{"x":458,"y":0.65},{"x":459,"y":0.685},{"x":460,"y":0.655},{"x":461,"y":0.5},{"x":462,"y":0.62},{"x":463,"y":0.64},{"x":464,"y":0.645},{"x":466,"y":0.58},{"x":467,"y":0.69},{"x":468,"y":0.675},{"x":469,"y":0.727},{"x":470,"y":0.61},{"x":471,"y":0.727},{"x":472,"y":0.615},{"x":473,"y":0.65},{"x":474,"y":0.55},{"x":475,"y":0.6},{"x":477,"y":0.708},{"x":478,"y":0.684},{"x":479,"y":0.58},{"x":480,"y":0.54},{"x":481,"y":0.6},{"x":482,"y":0.655},{"x":483,"y":0.69},{"x":484,"y":0.575},{"x":486,"y":0.675},{"x":487,"y":0.55},{"x":488,"y":0.63},{"x":489,"y":0.6},{"x":490,"y":0.63},{"x":491,"y":0.585},{"x":492,"y":0.53},{"x":493,"y":0.59},{"x":494,"y":0.555},{"x":496,"y":0.59},{"x":497,"y":0.693},{"x":498,"y":0.655},{"x":499,"y":0.52},{"x":500,"y":0.565},{"x":501,"y":0.59},{"x":502,"y":0.49},{"x":503,"y":0.465},{"x":505,"y":0.575},{"x":506,"y":0.636},{"x":507,"y":0.54},{"x":508,"y":0.58},{"x":509,"y":0.63},{"x":510,"y":0.67},{"x":511,"y":0.655},{"x":512,"y":0.55},{"x":514,"y":0.595},{"x":515,"y":0.48},{"x":516,"y":0.52},{"x":517,"y":0.575},{"x":518,"y":0.53},{"x":519,"y":0.57},{"x":520,"y":0.595},{"x":521,"y":0.53},{"x":522,"y":0.56},{"x":524,"y":0.57},{"x":525,"y":0.61},{"x":526,"y":0.65},{"x":527,"y":0.595},{"x":528,"y":0.62},{"x":529,"y":0.5},{"x":530,"y":0.62},{"x":531,"y":0.64},{"x":533,"y":0.65},{"x":534,"y":0.53},{"x":535,"y":0.645},{"x":536,"y":0.51},{"x":537,"y":0.465},{"x":538,"y":0.45},{"x":539,"y":0.565},{"x":540,"y":0.54},{"x":541,"y":0.51},{"x":542,"y":0.575},{"x":543,"y":0.63},{"x":545,"y":0.636},{"x":546,"y":0.54},{"x":547,"y":0.47},{"x":548,"y":0.56},{"x":549,"y":0.58},{"x":550,"y":0.55},{"x":551,"y":0.565},{"x":552,"y":0.47},{"x":553,"y":0.5},{"x":554,"y":0.465},{"x":555,"y":0.54},{"x":557,"y":0.51},{"x":558,"y":0.54},{"x":559,"y":0.565},{"x":560,"y":0.545},{"x":561,"y":0.59},{"x":562,"y":0.64},{"x":563,"y":0.565},{"x":564,"y":0.5},{"x":565,"y":0.6},{"x":567,"y":0.68},{"x":568,"y":0.636},{"x":569,"y":0.52},{"x":570,"y":0.48},{"x":571,"y":0.55},{"x":572,"y":0.5},{"x":574,"y":0.517},
{"x":575,"y":0.51},{"x":576,"y":0.475},{"x":577,"y":0.555},{"x":578,"y":0.59},{"x":579,"y":0.555},{"x":581,"y":0.693},{"x":582,"y":0.54},{"x":583,"y":0.59},{"x":584,"y":0.565},{"x":585,"y":0.54},{"x":586,"y":0.59},{"x":587,"y":0.5},{"x":588,"y":0.62},{"x":589,"y":0.722},{"x":590,"y":0.794},{"x":591,"y":0.69},{"x":592,"y":0.57},{"x":593,"y":0.49},{"x":594,"y":0.64},{"x":595,"y":0.58},{"x":596,"y":0.61},{"x":597,"y":0.712},{"x":598,"y":0.61},{"x":599,"y":0.52},{"x":600,"y":0.617},{"x":601,"y":0.51},{"x":603,"y":0.54},{"x":604,"y":0.5},{"x":605,"y":0.58},{"x":606,"y":0.484},{"x":607,"y":0.54},{"x":608,"y":0.484},{"x":609,"y":0.57},{"x":610,"y":0.61},{"x":612,"y":0.627},{"x":613,"y":0.584},{"x":614,"y":0.6},{"x":615,"y":0.61},{"x":616,"y":0.58},{"x":617,"y":0.5},{"x":619,"y":0.484},{"x":620,"y":0.46},{"x":621,"y":0.372},{"x":622,"y":0.52},{"x":623,"y":0.56},{"x":624,"y":0.484},{"x":625,"y":0.632},{"x":626,"y":0.61},{"x":627,"y":0.655},{"x":628,"y":0.575},{"x":629,"y":0.627},{"x":630,"y":0.584},{"x":631,"y":0.52},{"x":632,"y":0.48},{"x":633,"y":0.58},{"x":634,"y":0.61},{"x":635,"y":0.52},{"x":637,"y":0.64},{"x":638,"y":0.57},{"x":639,"y":0.51},{"x":640,"y":0.6},{"x":641,"y":0.56},{"x":642,"y":0.57},{"x":643,"y":0.575},{"x":644,"y":0.6},{"x":645,"y":0.59},{"x":646,"y":0.6},{"x":648,"y":0.575},{"x":649,"y":0.6},{"x":650,"y":0.67},{"x":651,"y":0.54},{"x":652,"y":0.51},{"x":653,"y":0.645},{"x":654,"y":0.594},{"x":655,"y":0.617},{"x":656,"y":0.575},{"x":657,"y":0.61},{"x":659,"y":0.59},{"x":660,"y":0.55},{"x":661,"y":0.6},{"x":662,"y":0.57},{"x":663,"y":0.5},{"x":664,"y":0.675},{"x":665,"y":0.6},{"x":666,"y":0.57},{"x":667,"y":0.61},{"x":669,"y":0.55},{"x":670,"y":0.48},{"x":671,"y":0.693},{"x":672,"y":0.61},{"x":673,"y":0.5},{"x":674,"y":0.575},{"x":675,"y":0.54},{"x":676,"y":0.617},{"x":677,"y":0.5},{"x":678,"y":0.57},{"x":680,"y":0.58},{"x":681,"y":0.584},{"x":682,"y":0.58},{"x":683,"y":0.56},{"x":684,"y":0.665},{"x":685,"y":0.75},{"x":686,"y":0.54},{"x":688,"y":0.59},{"x":689,"y":0.61},{"x":690,"y":0.67},{"x":691,"y":0.636},{"x":692,"y":0.617},{"x":693,"y":0.58},{"x":694,"y":0.712},{"x":696,"y":0.398},{"x":697,"y":0.636},{"x":698,"y":0.59},{"x":699,"y":0.617},{"x":700,"y":0.54},{"x":701,"y":0.6},{"x":702,"y":0.636},{"x":704,"y":0.684},{"x":705,"y":0.6},{"x":706,"y":0.58},{"x":707,"y":0.617},{"x":708,"y":0.6},{"x":709,"y":0.617},{"x":710,"y":0.65},{"x":711,"y":0.57},{"x":712,"y":0.61},{"x":714,"y":0.636},{"x":715,"y":0.58},{"x":716,"y":0.665},{"x":717,"y":0.684},{"x":718,"y":0.627},{"x":719,"y":0.603},{"x":720,"y":0.57},{"x":721,"y":0.675},{"x":722,"y":0.727},{"x":723,"y":0.54},{"x":724,"y":0.58},
{"x":725,"y":0.622},{"x":726,"y":0.56},{"x":727,"y":0.53},{"x":728,"y":0.565},{"x":729,"y":0.484},{"x":730,"y":0.59},{"x":731,"y":0.594},{"x":732,"y":0.57},{"x":734,"y":0.65},{"x":735,"y":0.703},{"x":736,"y":0.779},{"x":737,"y":0.722},{"x":738,"y":0.565},{"x":739,"y":0.64},{"x":740,"y":0.6},{"x":741,"y":0.65},{"x":742,"y":0.56},{"x":743,"y":0.6},{"x":744,"y":0.64},{"x":745,"y":0.684},{"x":746,"y":0.675},{"x":747,"y":0.5},{"x":748,"y":0.632},{"x":749,"y":0.655},{"x":750,"y":0.622},{"x":752,"y":0.58},{"x":753,"y":0.645},{"x":754,"y":0.61},{"x":755,"y":0.555},{"x":756,"y":0.6},{"x":757,"y":0.64},{"x":758,"y":0.58},{"x":759,"y":0.655},{"x":760,"y":0.617},{"x":762,"y":0.59},{"x":763,"y":0.536},{"x":764,"y":0.61},{"x":765,"y":0.665},{"x":766,"y":0.645},{"x":767,"y":0.51},{"x":768,"y":0.57},{"x":769,"y":0.6},{"x":771,"y":0.627},{"x":772,"y":0.58},{"x":773,"y":0.61},{"x":774,"y":0.613},{"x":775,"y":0.59},{"x":776,"y":0.53},{"x":777,"y":0.627},{"x":778,"y":0.5},{"x":780,"y":0.489},{"x":781,"y":0.55},{"x":782,"y":0.622},{"x":783,"y":0.58},{"x":784,"y":0.65},{"x":785,"y":0.5},{"x":786,"y":0.536},{"x":787,"y":0.59},{"x":788,"y":0.622},{"x":790,"y":0.703},{"x":791,"y":0.66},{"x":792,"y":0.594},{"x":793,"y":0.517},{"x":794,"y":0.627},{"x":795,"y":0.58},{"x":796,"y":0.65},{"x":797,"y":0.698},{"x":799,"y":0.54},{"x":800,"y":0.594},{"x":801,"y":0.565},{"x":802,"y":0.603},{"x":803,"y":0.58},{"x":804,"y":0.565},{"x":805,"y":0.603},{"x":806,"y":0.575},{"x":807,"y":0.555},{"x":809,"y":0.65},{"x":810,"y":0.53},{"x":811,"y":0.698},{"x":812,"y":0.636},{"x":813,"y":0.594},{"x":814,"y":0.689},{"x":815,"y":0.59},{"x":816,"y":0.51},{"x":818,"y":0.665},{"x":819,"y":0.627},{"x":820,"y":0.68},{"x":821,"y":0.693},{"x":822,"y":0.636},{"x":823,"y":0.594},{"x":824,"y":0.56},{"x":825,"y":0.565},{"x":827,"y":0.59},{"x":828,"y":0.613},{"x":829,"y":0.632},{"x":830,"y":0.59},{"x":831,"y":0.584},{"x":832,"y":0.6},{"x":833,"y":0.584},{"x":834,"y":0.61},{"x":835,"y":0.517},{"x":837,"y":0.645},{"x":838,"y":0.58},{"x":839,"y":0.53},{"x":840,"y":0.636},{"x":841,"y":0.655},{"x":842,"y":0.727},{"x":843,"y":0.617},{"x":844,"y":0.555},{"x":846,"y":0.59},{"x":847,"y":0.53},{"x":848,"y":0.66},{"x":849,"y":0.722},{"x":850,"y":0.54},{"x":851,"y":0.484},{"x":852,"y":0.66},{"x":853,"y":0.522},{"x":855,"y":0.617},{"x":856,"y":0.57},{"x":857,"y":0.617},{"x":858,"y":0.594},{"x":859,"y":0.56},{"x":860,"y":0.66},{"x":861,"y":0.67},{"x":862,"y":0.536},{"x":863,"y":0.627},{"x":865,"y":0.57},{"x":866,"y":0.698},{"x":867,"y":0.6},{"x":868,"y":0.75},{"x":869,"y":0.794},{"x":870,"y":0.708},{"x":871,"y":0.617},{"x":872,"y":0.54},{"x":873,"y":0.655},{"x":874,"y":0.727},
{"x":876,"y":0.64},{"x":877,"y":0.675},{"x":878,"y":0.494},{"x":879,"y":0.584},{"x":880,"y":0.617},{"x":881,"y":0.555},{"x":882,"y":0.53},{"x":883,"y":0.66},{"x":885,"y":0.784},{"x":886,"y":0.51},{"x":887,"y":0.58},{"x":888,"y":0.64},{"x":889,"y":0.708},{"x":890,"y":0.746},{"x":891,"y":0.689},{"x":892,"y":0.489},{"x":893,"y":0.655},{"x":895,"y":0.789},{"x":896,"y":0.755},{"x":897,"y":0.6},{"x":898,"y":0.675},{"x":899,"y":0.65},{"x":900,"y":0.613},{"x":901,"y":0.665},{"x":902,"y":0.64},{"x":904,"y":0.536},{"x":905,"y":0.455},{"x":906,"y":0.6},{"x":907,"y":0.645},{"x":908,"y":0.698},{"x":909,"y":0.64},{"x":910,"y":0.522},{"x":911,"y":0.608},{"x":913,"y":0.55},{"x":914,"y":0.613},{"x":915,"y":0.617},{"x":916,"y":0.58},{"x":917,"y":0.608},{"x":918,"y":0.565},{"x":919,"y":0.617},{"x":920,"y":0.603},{"x":921,"y":0.608},{"x":923,"y":0.655},{"x":924,"y":0.703},{"x":925,"y":0.608},{"x":926,"y":0.575},{"x":927,"y":0.645},{"x":928,"y":0.727},{"x":929,"y":0.765},{"x":930,"y":0.689},{"x":932,"y":0.655},{"x":933,"y":0.57},{"x":934,"y":0.77},{"x":935,"y":0.808},{"x":936,"y":0.732},{"x":937,"y":0.665},{"x":938,"y":0.617},{"x":939,"y":0.541},{"x":940,"y":0.57},{"x":941,"y":0.608},{"x":942,"y":0.598},{"x":943,"y":0.708},{"x":944,"y":0.622},{"x":945,"y":0.675},{"x":947,"y":0.65},{"x":948,"y":0.617},{"x":949,"y":0.608},{"x":950,"y":0.589},{"x":951,"y":0.655},{"x":952,"y":0.517},{"x":953,"y":0.765},{"x":954,"y":0.675},{"x":955,"y":0.727},{"x":956,"y":0.789},{"x":957,"y":0.665},{"x":958,"y":0.608},{"x":960,"y":0.741},{"x":961,"y":0.617},{"x":962,"y":0.64},{"x":963,"y":0.684},{"x":964,"y":0.565},{"x":965,"y":0.722},{"x":966,"y":0.617},{"x":967,"y":0.636},{"x":968,"y":0.684},{"x":970,"y":0.617},{"x":971,"y":0.58},{"x":972,"y":0.64},{"x":973,"y":0.665},{"x":974,"y":0.598},{"x":975,"y":0.613},{"x":976,"y":0.636},{"x":977,"y":0.627},{"x":979,"y":0.655},{"x":980,"y":0.636},{"x":981,"y":0.613},{"x":982,"y":0.594},{"x":983,"y":0.617},{"x":984,"y":0.713},{"x":985,"y":0.655},{"x":986,"y":0.522},{"x":987,"y":0.594},{"x":988,"y":0.57},{"x":989,"y":0.598},{"x":990,"y":0.55},{"x":992,"y":0.589},{"x":993,"y":0.58},{"x":994,"y":0.598},{"x":995,"y":0.57},{"x":996,"y":0.541},{"x":997,"y":0.636},{"x":998,"y":0.598},{"x":999,"y":0.655},{"x":1000,"y":0.613}]
},
"layer":[
{"data":{"name":"tr"},"mark":{"type":"line","strokeWidth":2},
"encoding":{
"x":{"field":"x","type":"quantitative","scale":{"domain":[0,1000],"nice":false,"zero":false},"axis":{"orient":"bottom","values":[0,100,200,300,400,500,600,700,800,900,1000],"format":"d","title":"Epoches","labelPadding":19,"titlePadding":3}},
"y":{"field":"a","type":"quantitative","scale":{"domain":[0,1],"nice":false},"axis":{"orient":"left","values":[0,0.1,0.2,0.3,0.4,0.5,0.6,0.7,0.8,0.9,1],"format":"~g","title":null,"labelPadding":19}},
"color":{"datum":"TrainLoss Smart Augmentation","type":"nominal",
"scale":{"domain":["TrainLoss Smart Augmentation","TrainLoss without Smart Augmentation","ValidationLoss Smart Augmentation","ValidationLoss without Smart Augmentation"],"range":["#0000ff","#008000","#ff0000","#00bfbf"]},
"legend":{"title":null,"orient":"top-right","offset":0,"symbolType":"stroke","symbolSize":1764,"symbolStrokeWidth":2,"labelFont":"Liberation Sans","labelFontSize":27,"labelLimit":2000,"labelColor":"black","labelOffset":4,"symbolOffset":3,"padding":3,"rowPadding":0,"strokeColor":"black","fillColor":"white"}}}},
{"data":{"name":"tr"},"mark":{"type":"line","strokeWidth":2},
"encoding":{"x":{"field":"x","type":"quantitative","axis":null},"y":{"field":"b","type":"quantitative","axis":null},"color":{"datum":"TrainLoss without Smart Augmentation","type":"nominal"}}},
{"data":{"name":"vs"},"mark":{"type":"line","strokeWidth":2},
"encoding":{"x":{"field":"x","type":"quantitative","axis":null},"y":{"field":"y","type":"quantitative","axis":null},"color":{"datum":"ValidationLoss Smart Augmentation","type":"nominal"}}},
{"data":{"name":"vn"},"mark":{"type":"line","strokeWidth":2},
"encoding":{"x":{"field":"x","type":"quantitative","axis":null},"y":{"field":"y","type":"quantitative","axis":null},"color":{"datum":"ValidationLoss without Smart Augmentation","type":"nominal"}}},
{"data":{"name":"tr"},"mark":{"type":"line","opacity":0},
"encoding":{"x":{"field":"x","type":"quantitative","axis":{"orient":"top","values":[0,100,200,300,400,500,600,700,800,900,1000],"labels":false,"title":null}},"y":{"field":"a","type":"quantitative","axis":{"orient":"right","values":[0,0.1,0.2,0.3,0.4,0.5,0.6,0.7,0.8,0.9,1],"labels":false,"title":null}}}}
],
"resolve":{"axis":{"x":"independent","y":"independent"}}
}
